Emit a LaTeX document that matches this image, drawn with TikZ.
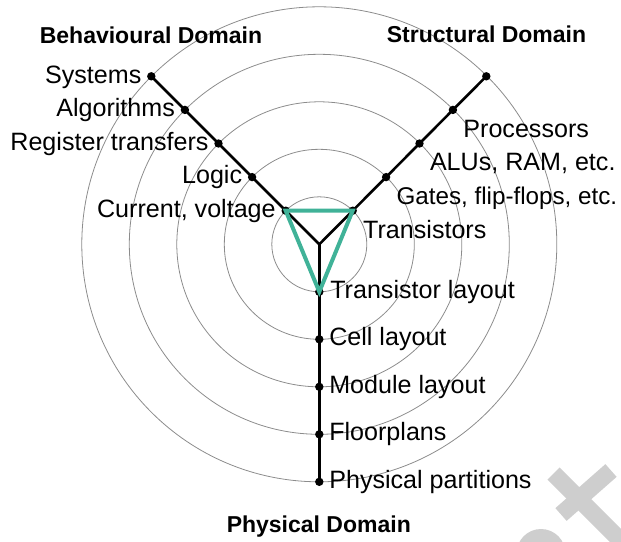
\documentclass[tikz,border=0pt]{standalone}
\usepackage{fontspec}
\setmainfont{Liberation Sans}
\usetikzlibrary{calc}
\definecolor{ringgray}{RGB}{140,140,140}
\definecolor{triteal}{RGB}{64,178,152}
\definecolor{markgray}{RGB}{206,206,206}
\begin{document}
\begin{tikzpicture}[x=1pt,y=-1pt,
  ring/.style={draw=ringgray,line width=0.8pt},
  axisline/.style={draw=black,line width=2.6pt},
  dotmark/.style={fill=black},
  tri/.style={draw=triteal,line width=4pt},
  lbl/.style={inner sep=0pt,outer sep=0pt,font=\fontsize{25.1}{30}\selectfont},
  lblnarrow/.style={lbl,font=\fontsize{24.2}{29}\selectfont},
  domtitle/.style={inner sep=0pt,outer sep=0pt,anchor=base,font=\fontsize{23}{28}\selectfont\bfseries},
  wm/.style={draw=markgray,line width=17pt}]
\useasboundingbox (0,0) rectangle (621,541);

% light grey mark in the lower right corner
\draw[wm] (553.5,473.5) -- (630,550);
\draw[wm] (561,514.5) -- (611,470.5);
\fill[markgray] (541,553.4) circle[radius=24.4];

% centre and the level points on the three axes
\coordinate (c) at (319.3,244.3);
\foreach \k in {1,...,5} {
  \coordinate (b\k) at ($(c)+({-33.6*\k},{-33.6*\k})$);
  \coordinate (s\k) at ($(c)+({33.4*\k},{-33.6*\k})$);
  \coordinate (p\k) at ($(c)+(0,{47.5*\k})$);
}

% concentric abstraction levels
\foreach \k in {1,...,5}
  \draw[ring] (c) circle[radius={47.5*\k}];

% the three domain axes
\draw[axisline] (b5) -- (c) -- (s5);
\draw[axisline] (c) -- (p5);
\foreach \k in {1,...,5} {
  \fill[dotmark] (b\k) circle[radius=4.2];
  \fill[dotmark] (s\k) circle[radius=4.2];
  \fill[dotmark] (p\k) circle[radius=4.2];
}

% innermost level triangle
\draw[tri] (b1) -- (s1) -- (p1) -- cycle;

% domain titles
\node[domtitle] (tbeh) at (151,43) {Behavioural Domain};
\node[domtitle] (tstr) at (486.5,42.7) {Structural Domain};
\node[domtitle] (tphy) at (318.8,532.3) {Physical Domain};

% behavioural levels
\node[lbl,anchor=base east] (lb5) at ($(b5)+(-10,6.7)$) {Systems};
\node[lbl,anchor=base east] (lb4) at ($(b4)+(-10,6.7)$) {Algorithms};
\node[lbl,anchor=base east] (lb3) at ($(b3)+(-10,6.7)$) {Register transfers};
\node[lbl,anchor=base east] (lb2) at ($(b2)+(-10,6.7)$) {Logic};
\node[lbl,anchor=base east] (lb1) at ($(b1)+(-10,6.7)$) {Current, voltage};

% structural levels
\node[lbl,anchor=base west] (ls4) at ($(s4)+(10.5,27.3)$) {Processors};
\node[lbl,anchor=base west] (ls3) at ($(s3)+(10.5,27.3)$) {ALUs, RAM, etc.};
\node[lblnarrow,anchor=base west] (ls2) at ($(s2)+(10.5,27.3)$) {Gates, flip-flops, etc.};
\node[lbl,anchor=base west] (ls1) at ($(s1)+(10.5,27.3)$) {Transistors};

% physical levels
\node[lbl,anchor=base west] (lp1) at ($(p1)+(11,6.3)$) {Transistor layout};
\node[lbl,anchor=base west] (lp2) at ($(p2)+(10,6.3)$) {Cell layout};
\node[lbl,anchor=base west] (lp3) at ($(p3)+(10,6.3)$) {Module layout};
\node[lbl,anchor=base west] (lp4) at ($(p4)+(10,6.3)$) {Floorplans};
\node[lbl,anchor=base west] (lp5) at ($(p5)+(10,6.3)$) {Physical partitions};
\end{tikzpicture}
\end{document}
